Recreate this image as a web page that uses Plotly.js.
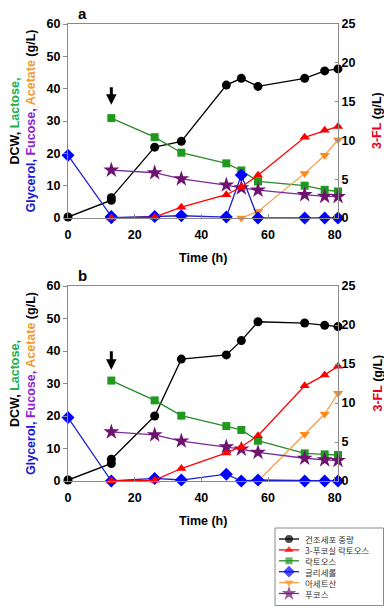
<!DOCTYPE html>
<html><head><meta charset="utf-8">
<script src="https://cdn.plot.ly/plotly-3.0.1.min.js"></script>
<style>html,body{margin:0;padding:0;background:#fff}#chart{width:384px;height:608px}</style>
</head><body><div id="chart"></div>
<script>
// ---------- DATA ----------
const xTicks = [0, 20, 40, 60, 80];
const yLeftTicks = [0, 10, 20, 30, 40, 50, 60];
const yRightTicks = [0, 5, 10, 15, 20, 25];

// Panel a
const dcwTimeA = [0, 13, 13, 26, 34, 47.5, 52, 57, 71, 77, 81];
const dcwA = [0.3, 5.5, 6.3, 21.9, 23.7, 41.1, 43.2, 40.7, 43.2, 45.5, 46.1];
const fl3TimeA = [13, 26, 34, 47.5, 52, 57, 71, 77, 81];
const fl3A = [0, 0.1, 1.4, 3.0, 4.0, 5.5, 10.4, 11.3, 11.8];
const lactoseTimeA = [13, 26, 34, 47.5, 52, 57, 71, 77, 81];
const lactoseA = [30.9, 25.0, 20.2, 16.9, 14.7, 11.3, 10.0, 8.7, 8.2];
const glycerolTimeA = [0, 13, 13, 26, 34, 47.5, 52, 57, 71, 77, 81];
const glycerolA = [19.4, 0.5, 0.1, 0.5, 0.7, 0.3, 13.3, 0, 0, 0, 0];
const acetateTimeA = [52, 57, 71, 77, 81];
const acetateA = [0, 2.0, 13.8, 19.4, 24.2];
const fucoseTimeA = [13, 26, 34, 47.5, 52, 57, 71, 77, 81];
const fucoseA = [14.8, 14.0, 12.1, 10.2, 9.3, 8.6, 7.2, 6.7, 6.6];

// Panel b
const dcwTimeB = [0, 13, 13, 26, 34, 47.5, 52, 57, 71, 77, 81];
const dcwB = [0.3, 5.4, 6.7, 20.0, 37.5, 38.8, 43.2, 49.0, 48.6, 47.9, 47.5];
const fl3TimeB = [13, 26, 34, 47.5, 52, 57, 71, 77, 81];
const fl3B = [0, 0.1, 1.6, 3.6, 4.4, 5.8, 12.2, 13.6, 14.7];
const lactoseTimeB = [13, 26, 34, 47.5, 52, 57, 71, 77, 81];
const lactoseB = [30.9, 24.8, 20.1, 16.9, 15.7, 12.4, 8.5, 8.2, 8.0];
const glycerolTimeB = [0, 13, 26, 34, 47.5, 52, 57, 71, 77, 81];
const glycerolB = [19.5, 0, 0.8, 0.3, 2.1, 0, 0.3, 0, 0, 0];
const acetateTimeB = [57, 71, 77, 81];
const acetateB = [0, 14.4, 20.6, 27.0];
const fucoseTimeB = [13, 26, 34, 47.5, 52, 57, 71, 77, 81];
const fucoseB = [15.1, 14.2, 12.3, 10.5, 9.8, 8.8, 7.0, 6.5, 6.3];

// Legend / series names (Korean, as in the original)
const seriesNames = ['건조세포 중량', '3-푸코실 락토오스', '락토오스', '글리세롤', '아세트산', '푸코스'];
const arrowTime = 13;

// ---------- STYLES ----------
const FONT = 'Liberation Sans, Arial, sans-serif';
const styles = [
  {line: '#000000', marker: '#000000', symbol: 'circle', size: 9},          // DCW
  {line: '#ff0000', marker: '#ff0000', symbol: 'triangle-up', size: 9},     // 3-FL
  {line: '#2a8a2a', marker: '#1f9a1f', symbol: 'square', size: 8},          // lactose
  {line: '#2020c8', marker: '#0000ff', symbol: 'diamond', size: 10},        // glycerol
  {line: '#f5a050', marker: '#ff8c1a', symbol: 'triangle-down', size: 9},   // acetate
  {line: '#7a2a9a', marker: '#6e1470', symbol: 'star', size: 12}            // fucose
];

function tr(i, x, y, xa, ya) {
  const s = styles[i];
  return {x: x, y: y, xaxis: xa, yaxis: ya, type: 'scatter', mode: 'lines+markers',
    name: seriesNames[i], showlegend: false, cliponaxis: false, hoverinfo: 'skip',
    line: {color: s.line, width: 1.3},
    marker: {color: s.marker, symbol: s.symbol, size: s.size, line: {width: 0}}};
}

const data = [
  tr(0, dcwTimeA, dcwA, 'x', 'y'),
  tr(2, lactoseTimeA, lactoseA, 'x', 'y'),
  tr(4, acetateTimeA, acetateA, 'x', 'y'),
  tr(5, fucoseTimeA, fucoseA, 'x', 'y'),
  tr(3, glycerolTimeA, glycerolA, 'x', 'y'),
  tr(1, fl3TimeA, fl3A, 'x', 'y2'),

  tr(0, dcwTimeB, dcwB, 'x2', 'y3'),
  tr(2, lactoseTimeB, lactoseB, 'x2', 'y3'),
  tr(4, acetateTimeB, acetateB, 'x2', 'y3'),
  tr(5, fucoseTimeB, fucoseB, 'x2', 'y3'),
  tr(3, glycerolTimeB, glycerolB, 'x2', 'y3'),
  tr(1, fl3TimeB, fl3B, 'x2', 'y4')
];

// manual compact legend (sample line + marker) in its own hidden subplot
const legRowH = 10.9, legTop = 11;
seriesNames.forEach((n, i) => {
  const s = styles[i];
  const yy = legTop + legRowH * i;
  data.push({x: [4, 14, 24], y: [yy, yy, yy], xaxis: 'x3', yaxis: 'y5', type: 'scatter',
    mode: 'lines+markers', showlegend: false, hoverinfo: 'skip', cliponaxis: false,
    line: {color: s.line, width: 1.3},
    marker: {color: s.marker, symbol: s.symbol, size: [0, Math.max(7, s.size - 1), 0], line: {width: 0}}});
});

const W = 384, H = 608;
const px = v => v / W;
const py = v => 1 - v / H;
const axisLine = '#8a8a8a';
const tickFont = {family: FONT, size: 12.5, color: '#000', weight: 'bold'};

function xAxis(anchor) {
  return {domain: [px(68), px(338)], anchor: anchor, range: [0, 81], tickvals: xTicks,
    ticks: 'inside', ticklen: 4, tickcolor: axisLine, showline: true, linecolor: axisLine,
    linewidth: 1, mirror: true, showgrid: false, zeroline: false, tickfont: tickFont,
    ticklabelstandoff: 5, fixedrange: true};
}
function yLeft(anchor, d) {
  return {domain: d, anchor: anchor, range: [0, 60], tickvals: yLeftTicks, ticks: 'outside',
    ticklen: 4, tickcolor: axisLine, showline: true, linecolor: axisLine, linewidth: 1,
    showgrid: false, zeroline: false, tickfont: tickFont, fixedrange: true};
}
function yRight(anchor, over) {
  return {overlaying: over, side: 'right', anchor: anchor, range: [0, 25], tickvals: yRightTicks,
    ticks: 'inside', ticklen: 3, tickcolor: axisLine, showline: true, linecolor: axisLine,
    linewidth: 1, showgrid: false, zeroline: false, tickfont: tickFont, fixedrange: true};
}

const leftTitle = '<span style="color:#000">DCW, </span><span style="color:#22b14c">Lactose,</span><br>' +
  '<span style="color:#1a1ad6">Glycerol, </span><span style="color:#8b1fd1">Fucose, </span>' +
  '<span style="color:#f39a2b">Acetate </span><span style="color:#000">(g/L)</span>';
const rightTitle = '<span style="color:#e8001c">3-FL</span> (g/L)';
const titleFont = {family: FONT, size: 12.5, color: '#000', weight: 'bold'};

const annotations = [];
function panelAnn(label, topPx, botPx) {
  const mid = (topPx + botPx) / 2;
  annotations.push({text: label, x: px(82), y: py(topPx - 11), xref: 'paper', yref: 'paper',
    showarrow: false, xanchor: 'center', yanchor: 'middle', font: {family: FONT, size: 15, weight: 'bold', color: '#000'}});
  annotations.push({text: leftTitle, x: px(22.5), y: py(mid), xref: 'paper', yref: 'paper', textangle: -90,
    showarrow: false, xanchor: 'center', yanchor: 'middle', font: titleFont});
  annotations.push({text: rightTitle, x: px(377), y: py(mid), xref: 'paper', yref: 'paper', textangle: -90,
    showarrow: false, xanchor: 'center', yanchor: 'middle', font: titleFont});
  annotations.push({text: 'Time (h)', x: px(203), y: py(botPx + 40), xref: 'paper', yref: 'paper',
    showarrow: false, xanchor: 'center', yanchor: 'middle', font: {family: FONT, size: 12.5, weight: 'bold', color: '#000'}});
}
panelAnn('a', 24, 218);
panelAnn('b', 286, 481);
// feeding arrows
annotations.push({text: '', x: arrowTime, y: 35, xref: 'x', yref: 'y', showarrow: true, ax: 0, ay: -19,
  arrowhead: 2, arrowsize: 0.7, arrowwidth: 3, arrowcolor: '#000', standoff: 0});
annotations.push({text: '', x: arrowTime, y: 34.2, xref: 'x2', yref: 'y3', showarrow: true, ax: 0, ay: -20,
  arrowhead: 2, arrowsize: 0.7, arrowwidth: 3, arrowcolor: '#000', standoff: 0});
// legend text
seriesNames.forEach((n, i) => {
  annotations.push({text: n, x: 27.5, y: legTop + legRowH * i, xref: 'x3', yref: 'y5', showarrow: false,
    xanchor: 'left', yanchor: 'middle', font: {family: 'Noto Sans CJK KR, sans-serif', size: 8.5, color: '#333'}});
});

const layout = {
  width: W, height: H, margin: {l: 0, r: 0, t: 0, b: 0}, paper_bgcolor: '#fff', plot_bgcolor: 'rgba(0,0,0,0)',
  showlegend: false,
  xaxis: xAxis('y'),
  yaxis: yLeft('x', [py(218), py(24)]),
  yaxis2: yRight('x', 'y'),
  xaxis2: xAxis('y3'),
  yaxis3: yLeft('x2', [py(481), py(286)]),
  yaxis4: yRight('x2', 'y3'),
  xaxis3: {domain: [px(275), px(383)], anchor: 'y5', range: [0, 108], visible: false, fixedrange: true},
  yaxis5: {domain: [py(606), py(528)], anchor: 'x3', range: [78, 0], visible: false, fixedrange: true},
  shapes: [{type: 'rect', xref: 'paper', yref: 'paper', x0: px(275), x1: px(383.5), y0: py(605.5), y1: py(528),
    line: {color: '#8a8a8a', width: 1}, fillcolor: 'rgba(0,0,0,0)'}],
  annotations: annotations
};

Plotly.newPlot('chart', data, layout, {staticPlot: true, displayModeBar: false});
</script>
</body></html>
